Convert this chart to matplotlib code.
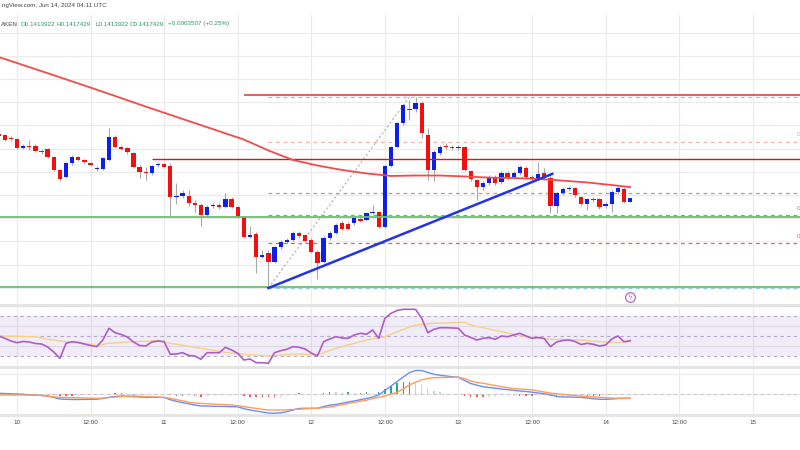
import numpy as np
import matplotlib
matplotlib.use("Agg")
import matplotlib.pyplot as plt
from matplotlib.lines import Line2D

# hourly candles, index 0 = Jun 10 00:00 UTC (first three are the evening of Jun 9)
idx = np.arange(-3, 101)

opens = [0.14463, 0.14459, 0.14446,
         0.14441, 0.14403, 0.14411, 0.14411, 0.14390, 0.14398, 0.14364, 0.14308, 0.14278, 0.14338,
         0.14364, 0.14351, 0.14338, 0.14312, 0.14312, 0.14351, 0.14450, 0.14407, 0.14403, 0.14381,
         0.14321, 0.14299, 0.14295, 0.14329, 0.14334, 0.14325, 0.14191, 0.14196, 0.14196, 0.14166,
         0.14157, 0.14114, 0.14153, 0.14157, 0.14148, 0.14183, 0.14148, 0.14105, 0.14019, 0.14032,
         0.13933, 0.13950, 0.13911, 0.13976, 0.13997, 0.14006, 0.14036, 0.14028, 0.14006, 0.13954,
         0.13911, 0.14015, 0.14036, 0.14079, 0.14075, 0.14079, 0.14097, 0.14092, 0.14122, 0.14127,
         0.14062, 0.14325, 0.14407, 0.14510, 0.14571, 0.14571, 0.14597, 0.14459, 0.14308, 0.14381,
         0.14411, 0.14407, 0.14403, 0.14407, 0.14303, 0.14265, 0.14234, 0.14252, 0.14278, 0.14256,
         0.14295, 0.14278, 0.14295, 0.14316, 0.14278, 0.14269, 0.14295, 0.14273, 0.14153, 0.14209,
         0.14226, 0.14230, 0.14191, 0.14161, 0.14183, 0.14183, 0.14153, 0.14161, 0.14213, 0.14226,
         0.14170]
highs = [0.14472, 0.14463, 0.14454,
         0.14446, 0.14420, 0.14437, 0.14420, 0.14398, 0.14403, 0.14368, 0.14312, 0.14342, 0.14372,
         0.14368, 0.14355, 0.14342, 0.14325, 0.14364, 0.14489, 0.14459, 0.14416, 0.14407, 0.14385,
         0.14329, 0.14321, 0.14329, 0.14342, 0.14338, 0.14338, 0.14252, 0.14222, 0.14222, 0.14178,
         0.14166, 0.14157, 0.14166, 0.14166, 0.14209, 0.14191, 0.14153, 0.14109, 0.14066, 0.14041,
         0.13963, 0.13963, 0.13980, 0.14006, 0.14015, 0.14045, 0.14045, 0.14032, 0.14015, 0.13963,
         0.14023, 0.14045, 0.14079, 0.14088, 0.14084, 0.14109, 0.14105, 0.14127, 0.14157, 0.14131,
         0.14329, 0.14411, 0.14515, 0.14592, 0.14609, 0.14622, 0.14605, 0.14489, 0.14394, 0.14416,
         0.14424, 0.14416, 0.14416, 0.14411, 0.14308, 0.14269, 0.14260, 0.14286, 0.14286, 0.14303,
         0.14303, 0.14303, 0.14329, 0.14325, 0.14286, 0.14342, 0.14316, 0.14286, 0.14217, 0.14234,
         0.14239, 0.14234, 0.14196, 0.14187, 0.14191, 0.14187, 0.14170, 0.14222, 0.14239, 0.14234,
         0.14187]
lows = [0.14450, 0.14433, 0.14433,
        0.14398, 0.14398, 0.14394, 0.14385, 0.14377, 0.14359, 0.14303, 0.14260, 0.14273, 0.14329,
        0.14347, 0.14334, 0.14325, 0.14303, 0.14308, 0.14347, 0.14403, 0.14394, 0.14377, 0.14316,
        0.14273, 0.14265, 0.14286, 0.14321, 0.14316, 0.14105, 0.14161, 0.14187, 0.14153, 0.14127,
        0.14066, 0.14109, 0.14144, 0.14140, 0.14144, 0.14144, 0.14101, 0.14015, 0.14015, 0.13864,
        0.13928, 0.13799, 0.13907, 0.13967, 0.13993, 0.14002, 0.14015, 0.13993, 0.13950, 0.13838,
        0.13907, 0.14006, 0.14032, 0.14049, 0.14049, 0.14071, 0.14084, 0.14088, 0.14118, 0.14058,
        0.14058, 0.14321, 0.14403, 0.14502, 0.14523, 0.14558, 0.14446, 0.14265, 0.14260, 0.14372,
        0.14394, 0.14394, 0.14394, 0.14303, 0.14260, 0.14178, 0.14222, 0.14243, 0.14243, 0.14247,
        0.14265, 0.14269, 0.14286, 0.14273, 0.14260, 0.14265, 0.14265, 0.14122, 0.14122, 0.14200,
        0.14217, 0.14191, 0.14153, 0.14135, 0.14170, 0.14140, 0.14144, 0.14127, 0.14204, 0.14166,
        0.14170]
closes = [0.14454, 0.14437, 0.14441,
          0.14403, 0.14411, 0.14407, 0.14390, 0.14385, 0.14364, 0.14308, 0.14269, 0.14338, 0.14364,
          0.14351, 0.14342, 0.14329, 0.14316, 0.14359, 0.14450, 0.14407, 0.14398, 0.14385, 0.14321,
          0.14299, 0.14295, 0.14325, 0.14334, 0.14321, 0.14191, 0.14196, 0.14209, 0.14166, 0.14157,
          0.14114, 0.14148, 0.14157, 0.14148, 0.14183, 0.14148, 0.14105, 0.14019, 0.14028, 0.13933,
          0.13941, 0.13911, 0.13976, 0.13997, 0.14006, 0.14036, 0.14023, 0.14002, 0.13954, 0.13907,
          0.14015, 0.14036, 0.14071, 0.14053, 0.14053, 0.14101, 0.14088, 0.14122, 0.14127, 0.14062,
          0.14325, 0.14407, 0.14510, 0.14588, 0.14566, 0.14597, 0.14467, 0.14308, 0.14385, 0.14407,
          0.14407, 0.14403, 0.14407, 0.14308, 0.14269, 0.14234, 0.14252, 0.14278, 0.14252, 0.14295,
          0.14278, 0.14295, 0.14321, 0.14278, 0.14269, 0.14291, 0.14273, 0.14153, 0.14209, 0.14226,
          0.14230, 0.14200, 0.14161, 0.14183, 0.14178, 0.14148, 0.14161, 0.14213, 0.14230, 0.14170,
          0.14187]

# 100 SMA (read at a few candles)
sma_idx = [-3, 5, 13, 21, 29, 37, 41, 45, 49, 53, 57, 61, 65, 69, 73, 77, 81, 85, 89, 93, 97, 100]
sma_vals = [0.14795, 0.14725, 0.14654, 0.14581, 0.14510, 0.14439, 0.14392, 0.14351, 0.14327,
            0.14308, 0.14293, 0.14282, 0.14284, 0.14284, 0.14280, 0.14275, 0.14273, 0.14269,
            0.14262, 0.14254, 0.14243, 0.14234]

# RSI(14) per candle
rsi = [50, 47.7, 45,
       43.3, 44.5, 44, 42.5, 42, 39, 34, 27.7, 42.7, 44.3,
       43.5, 42, 40.5, 39.3, 46, 57.7, 53.3, 51.5, 49, 44,
       40.5, 40, 44, 45, 44.3, 31.7, 32, 33.3, 30.5, 30,
       26.7, 33.3, 33.3, 33.3, 38.7, 36, 32.7, 26, 27, 23.3,
       23.3, 22.7, 33.3, 35.3, 36.7, 39.3, 38.7, 37, 33, 30,
       44.3, 47, 49.3, 48, 47.7, 51, 52.7, 51.7, 56, 47.7,
       67.7, 72.7, 75.5, 76.7, 76.7, 76.7, 67.7, 53.3, 56.7, 58.3,
       58.3, 58, 57.7, 51, 48.5, 46, 47.7, 48.3, 46.7, 50,
       49.3, 51, 52.7, 50, 47.7, 48.5, 47.5, 39.3, 44, 45.5,
       46, 44.5, 41.5, 42.7, 41.7, 40, 41, 47, 50, 44.3, 45.3]
rsi_ma_idx = [-3, 3, 5, 8, 11, 13, 15, 19, 23, 25, 30, 35, 41, 43, 46, 49, 52, 57, 60, 62,
              65, 68, 73, 74, 79, 83, 87, 92, 95, 98, 100]
rsi_ma = [50, 49.3, 46.7, 44.3, 42.7, 40.5, 42.7, 44.3, 45.3, 42.7, 37.7, 32.7, 30, 31, 32, 31,
          37.7, 46, 49.3, 54.3, 61, 62.7, 63.7, 61, 54.3, 49.3, 46.7, 46, 44.3, 43.3, 44.3]

# MACD(12,26,9) per candle, in units of 1e-4
macd = [0.07, 0.05, 0.02,
        0, -0.04, -0.08, -0.11, -0.15, -0.19, -0.35, -0.5, -0.53, -0.55,
        -0.55, -0.54, -0.53, -0.52, -0.45, -0.33, -0.25, -0.2, -0.24, -0.27,
        -0.3, -0.32, -0.33, -0.33, -0.35, -0.57, -0.73, -0.86, -0.98, -1.1,
        -1.2, -1.21, -1.23, -1.24, -1.25, -1.27, -1.28, -1.47, -1.6, -1.7,
        -1.8, -1.9, -1.92, -1.88, -1.77, -1.6, -1.45, -1.43, -1.43, -1.43,
        -1.25, -1.12, -1.04, -0.93, -0.8, -0.69, -0.57, -0.45, -0.3, -0.1,
        0.35, 0.8, 1.25, 1.7, 2.13, 2.35, 2.35, 2.15, 1.98, 1.87,
        1.8, 1.72, 1.67, 1.35, 1.05, 0.88, 0.73, 0.65, 0.58, 0.5,
        0.43, 0.37, 0.3, 0.25, 0.18, 0.1, 0.03, -0.08, -0.25, -0.29,
        -0.3, -0.32, -0.34, -0.4, -0.47, -0.53, -0.53, -0.5, -0.45, -0.43, -0.43]
signal = [-0.1, -0.1, -0.1,
          -0.1, -0.1, -0.1, -0.11, -0.14, -0.23, -0.28, -0.33, -0.35, -0.37,
          -0.38, -0.4, -0.42, -0.43, -0.41, -0.36, -0.31, -0.26, -0.22, -0.2,
          -0.23, -0.26, -0.29, -0.31, -0.34, -0.43, -0.56, -0.69, -0.82, -0.9,
          -0.94, -0.98, -1.01, -1.04, -1.07, -1.1, -1.18, -1.26, -1.35, -1.44,
          -1.53, -1.6, -1.6, -1.6, -1.58, -1.55, -1.52, -1.48, -1.45, -1.43,
          -1.36, -1.3, -1.2, -1.08, -0.96, -0.84, -0.72, -0.62, -0.45, -0.33,
          -0.2, 0, 0.15, 0.5, 0.9, 1.17, 1.42, 1.55, 1.63, 1.65,
          1.66, 1.67, 1.67, 1.54, 1.3, 1.16, 1.07, 0.96, 0.85, 0.74,
          0.62, 0.54, 0.5, 0.46, 0.41, 0.31, 0.2, 0.1, 0.02, -0.04,
          -0.1, -0.16, -0.2, -0.25, -0.29, -0.33, -0.36, -0.4, -0.43, -0.43, -0.43]

# drawn levels: (price, first candle)
resistance_top = (0.1463, 37)
resistance_mid = (0.14355, 22)
support_lines = [0.14105, 0.13805]
trend_start = (41, 0.13799)
trend_end = (87.3, 0.14291)
fib_low = (41, 0.13799)
fib_high = (64, 0.14622)
fib_levels = [0, 0.236, 0.5, 0.618, 0.764, 1]
fib_colors = ["#f4a0a0", "#f7b0b0", "#b89a9a", "#66bb6a", "#f05a5a", "#90caf9"]

time_ticks = np.arange(0, 121, 12)
time_labels = ["10", "12:00", "11", "12:00", "12", "12:00", "13", "12:00", "14", "12:00", "15"]

up_col = "#0b1fee"
down_col = "#f01010"
grid_col = "#ebebeb"
xlim = (-2.77, 127.7)
small = dict(family="Liberation Sans", fontsize=4.5)

fig = plt.figure(figsize=(8, 4.5), dpi=100)
ax = fig.add_axes([0, 1 - 303 / 450, 1, 288 / 450])
ax_rsi = fig.add_axes([0, 1 - 366 / 450, 1, 60 / 450])
ax_macd = fig.add_axes([0, 1 - 414 / 450, 1, 46 / 450])

for a in (ax, ax_rsi, ax_macd):
    a.set_xlim(*xlim)
    a.set_xticks(time_ticks)
    for s in a.spines.values():
        s.set_visible(False)
    a.grid(True, color=grid_col, lw=0.8)
    a.set_axisbelow(True)
    a.tick_params(length=0, labelleft=False, labelbottom=False)

# ---- main pane ----
ax.set_ylim(0.137345, 0.149758)
ax.set_yticks(np.arange(0.138, 0.1495, 0.001))

o = np.array(opens)
c = np.array(closes)
colors = [up_col if cc >= oo else down_col for oo, cc in zip(o, c)]
ax.vlines(idx, lows, highs, color="#a8a8a8", lw=0.8, zorder=2)
body = np.where(np.abs(c - o) < 0.00003, 0.00003 * np.sign(c - o + 1e-12), c - o)
ax.bar(idx, body, bottom=o, width=0.7, color=colors, lw=0, zorder=3)

ax.plot(sma_idx, sma_vals, color="#f44a4a", lw=1.3, zorder=4)

ax.hlines(resistance_top[0], resistance_top[1], xlim[1], color="#ef3e3e", lw=1.2, zorder=3)
ax.hlines(resistance_mid[0], resistance_mid[1], xlim[1], color="#c41f1f", lw=1.0, zorder=3)
for lvl in support_lines:
    ax.axhline(lvl, color="#6cc070", lw=1.3, zorder=3)

# fibonacci retracement
hi, lo = fib_high[1], fib_low[1]
for r, col in zip(fib_levels, fib_colors):
    ax.hlines(hi - r * (hi - lo), fib_low[0], xlim[1], color=col, lw=0.9,
              linestyles=(0, (3, 3)), zorder=2)
ax.plot([fib_low[0], fib_high[0]], [fib_low[1], fib_high[1]], color="#b0b0b0",
        lw=0.8, ls=(0, (2, 2)), zorder=2)

ax.plot([trend_start[0], trend_end[0]], [trend_start[1], trend_end[1]], color="#2433e6",
        lw=1.8, zorder=5)

# event marker
ax.plot([100], [0.13760], marker="o", ms=7, mfc="white", mec="#b968d0", mew=0.9, zorder=6)
ax.text(100, 0.13760, "ϟ", ha="center", va="center", fontsize=5, color="#b968d0", zorder=7)

# ---- RSI pane ----
ax_rsi.set_ylim(20, 80)
ax_rsi.set_yticks([20, 40, 60, 80])
ax_rsi.axhspan(30, 70, color="#7e57c2", alpha=0.11, lw=0)
for lvl in (70, 50, 30):
    ax_rsi.axhline(lvl, color="#b3a6c6", lw=0.8, ls=(0, (3, 3)))
ax_rsi.plot(rsi_ma_idx, rsi_ma, color="#f6d08a", lw=1.0)
ax_rsi.plot(idx, rsi, color="#b05cc8", lw=1.2)

# ---- MACD pane ----
ax_macd.set_ylim(-2.0, 2.6)
ax_macd.set_yticks([-2, 0, 2])
m = np.array(macd)
sg = np.array(signal)
hist = m - sg
prev = np.concatenate([[0], hist[:-1]])
hcol = []
for h, p in zip(hist, prev):
    if h >= 0:
        hcol.append("#26a69a" if h >= p else "#b2dfdb")
    else:
        hcol.append("#ff5252" if h <= p else "#ffcdd2")
ax_macd.axhline(0, color="#c8c8c8", lw=0.8, ls=(0, (3, 3)))
ax_macd.bar(idx, hist, width=0.22, color=hcol, lw=0)
ax_macd.plot(idx, macd, color="#6a8ef5", lw=1.0)
ax_macd.plot(idx, signal, color="#ff9c59", lw=1.0)

ax_macd.tick_params(labelbottom=True, pad=4, labelcolor="#444444")
ax_macd.set_xticklabels(time_labels, **small)

# pane separators
for ypx in (304.5, 366.5, 414.5):
    fig.add_artist(Line2D([0, 1], [1 - ypx / 450] * 2, transform=fig.transFigure,
                          color="#e3e3e3", lw=2.0))

# header
fig.text(0.002, 1 - 6 / 450, "ngView.com, Jun 14, 2024 04:11 UTC", color="#444444",
         va="center", **small)
legend_parts = [("AKEN", 0.5, "#444444"), ("O0.1413922", 21, "#2f9463"),
                ("H0.1417429", 57, "#2f9463"), ("L0.1413922", 95, "#2f9463"),
                ("C0.1417429", 130, "#2f9463"), ("+0.0003507 (+0.25%)", 168, "#2f9463")]
for txt, xpx, col in legend_parts:
    fig.text(xpx / 800, 1 - 24 / 450, txt, color=col, va="center", **small)

# cut-off fib labels on the right edge
for ypx, col in ((135, "#f4a0a0"), (209, "#66bb6a"), (237, "#f05a5a")):
    fig.text(1.0, 1 - ypx / 450, "0", color=col, ha="right", va="center", **small)

fig.savefig("out.png", dpi=100, facecolor="white")
